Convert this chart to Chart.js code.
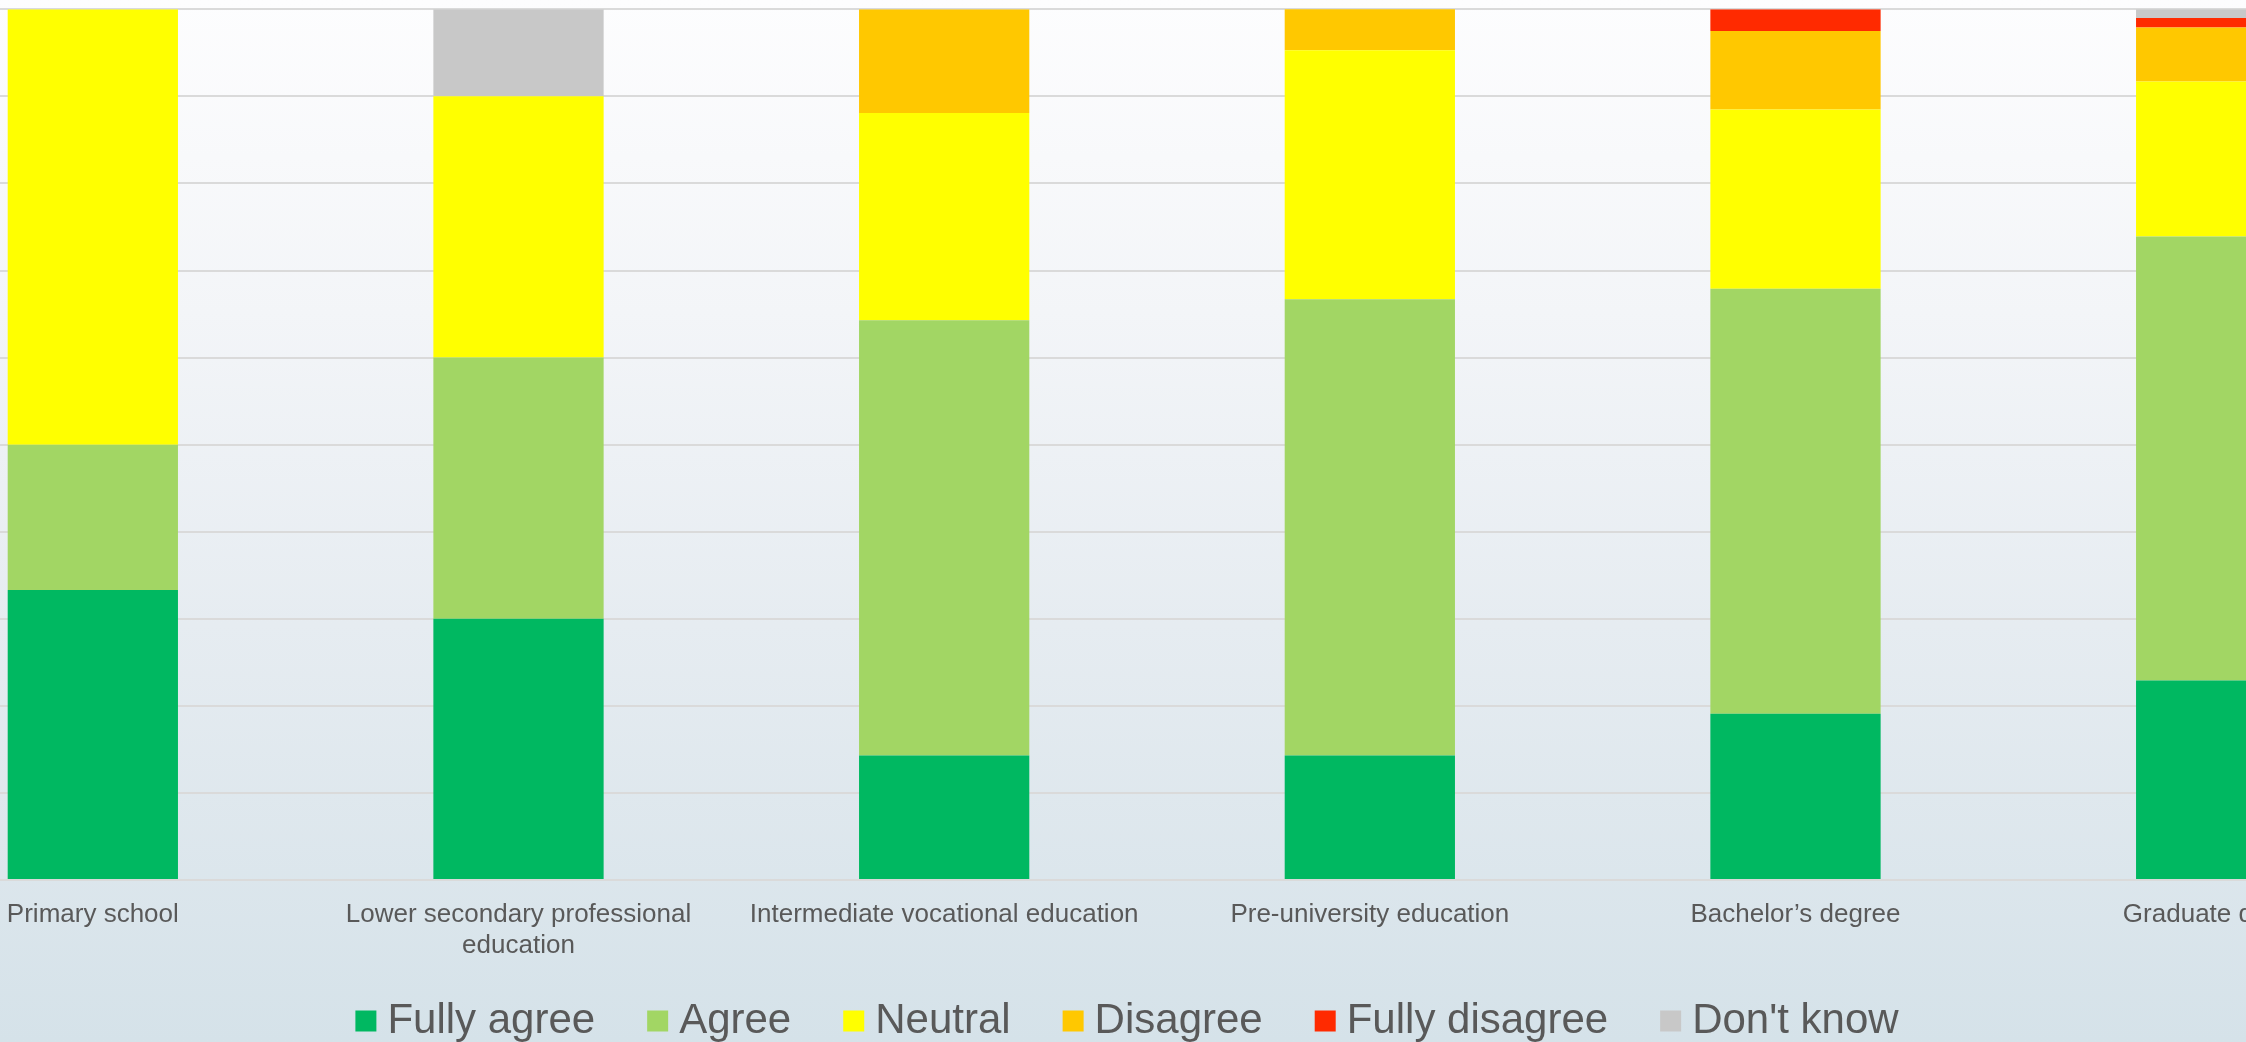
<!DOCTYPE html>
<html>
<head>
<meta charset="utf-8">
<title>Opinion by level of education</title>
<script src="https://cdn.jsdelivr.net/npm/chart.js@4/dist/chart.umd.min.js"></script>
<style>
  html, body {
    margin: 0;
    padding: 0;
    overflow: hidden;
  }
  body {
    position: relative;
    width: 2246px;
    height: 1042px;
    background: linear-gradient(to bottom, #fdfdfe 0%, #f3f5f8 30%, #e6ecf1 60%, #d5e2e9 100%);
  }
  /* the plot is wider than the picture: it runs past both edges */
  #chart {
    display: block;
    position: absolute;
    left: -120.5px;
    top: 0;
  }
</style>
</head>
<body>
<canvas id="chart" width="2554" height="1078"></canvas>
<script>
// categories (x axis)
const educationLevels = [
  "Primary school",
  ["Lower secondary professional", "education"],
  "Intermediate vocational education",
  "Pre-university education",
  "Bachelor\u2019s degree",
  "Graduate degree"
];

// answer shares in percent, bottom to top
const fullyAgree    = [33.3, 30.0, 14.3, 14.3, 19.1, 22.9];
const agree         = [16.7, 30.0, 50.0, 52.4, 48.8, 51.0];
const neutral       = [50.0, 30.0, 23.8, 28.6, 20.6, 17.8];
const disagree      = [0,    0,    11.9, 4.8,  9.0,  6.2];
const fullyDisagree = [0,    0,    0,    0,    2.5,  1.1];
const dontKnow      = [0,    10.0, 0,    0,    0,    1.0];

const seriesNames = ["Fully agree", "Agree", "Neutral", "Disagree", "Fully disagree", "Don't know"];
const seriesColors = ["#00b861", "#a2d664", "#ffff00", "#ffc800", "#ff2a00", "#c8c8c8"];
const seriesValues = [fullyAgree, agree, neutral, disagree, fullyDisagree, dontKnow];

const textColor = "#595959";
const fontFamily = "'Liberation Sans', Arial, sans-serif";

// centre the legend on the visible part of the canvas and lift it a bit
const legendToPage = {
  id: "legendToPage",
  afterLayout(chart) {
    const lg = chart.legend;
    if (lg) {
      lg.left = 129;
      lg.right = 129 + 2246;
      lg.top -= 26;
      lg.bottom -= 26;
    }
  }
};

var ctx = document.getElementById("chart").getContext("2d");

var myChart = new Chart(ctx, {
  type: "bar",
  data: {
    labels: educationLevels,
    datasets: seriesNames.map((name, i) => ({
      label: name,
      data: seriesValues[i],
      backgroundColor: seriesColors[i],
      borderWidth: 0,
      categoryPercentage: 0.4,
      barPercentage: 1
    }))
  },
  plugins: [legendToPage],
  options: {
    responsive: false,
    animation: false,
    devicePixelRatio: 1,
    layout: {
      padding: { left: 0, right: 0, top: 9.3, bottom: 0 }
    },
    plugins: {
      tooltip: { enabled: false },
      legend: {
        display: true,
        position: "bottom",
        labels: {
          // square markers with a tight gap before the text
          usePointStyle: true,
          pointStyle: "rect",
          boxWidth: 1,
          boxHeight: 21,
          padding: 62,
          color: textColor,
          font: { family: fontFamily, size: 42 }
        }
      }
    },
    scales: {
      x: {
        stacked: true,
        grid: { display: false, drawTicks: false },
        border: { display: false },
        ticks: {
          color: textColor,
          font: { family: fontFamily, size: 26 },
          padding: 19,
          autoSkip: false,
          maxRotation: 0,
          minRotation: 0
        },
        afterFit: (scale) => { scale.height = 84; }
      },
      y: {
        stacked: true,
        min: 0,
        max: 100,
        ticks: { display: false, stepSize: 10 },
        grid: { color: "#dadada", lineWidth: 2, drawTicks: false },
        border: { display: false },
        afterFit: (scale) => { scale.width = 0; }
      }
    }
  }
});
</script>
</body>
</html>
